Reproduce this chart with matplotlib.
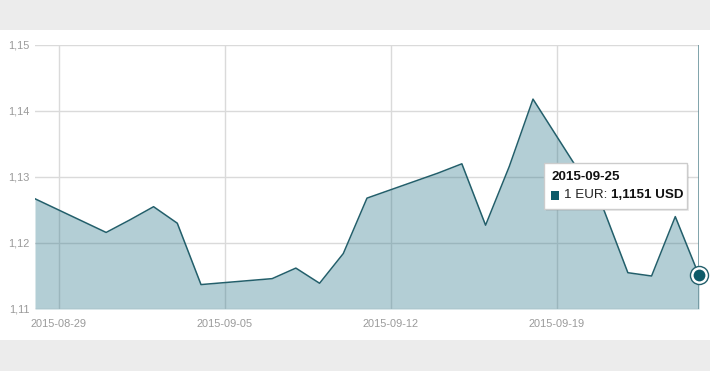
import numpy as np
import pandas as pd
import matplotlib
matplotlib.use('Agg')
import matplotlib.pyplot as plt
import matplotlib.dates as mdates
from matplotlib.patches import Rectangle
from matplotlib.offsetbox import TextArea, HPacker, VPacker, AnnotationBbox, DrawingArea

plt.rcParams['font.family'] = ['Liberation Sans', 'DejaVu Sans']

# Курс EUR/USD по рабочим дням
dates = ['2015-08-28', '2015-08-31', '2015-09-01', '2015-09-02', '2015-09-03',
         '2015-09-04', '2015-09-07', '2015-09-08', '2015-09-09', '2015-09-10',
         '2015-09-11', '2015-09-14', '2015-09-15', '2015-09-16', '2015-09-17',
         '2015-09-18', '2015-09-21', '2015-09-22', '2015-09-23', '2015-09-24',
         '2015-09-25']
rates = [1.1267, 1.1216, 1.1235, 1.1255, 1.1230,
         1.1137, 1.1146, 1.1162, 1.1139, 1.1184,
         1.1268, 1.1306, 1.1320, 1.1227, 1.1316,
         1.1418, 1.1249, 1.1155, 1.1150, 1.1240,
         1.1151]
tick_dates = ['2015-08-29', '2015-09-05', '2015-09-12', '2015-09-19']
y_ticks = [1.11, 1.12, 1.13, 1.14, 1.15]

x = pd.to_datetime(dates)
y = np.array(rates)

line_color = '#235f6b'
fill_color = '#267387'
grid_color = '#dadada'
label_color = '#9a9a9a'

W, H = 710, 371
fig = plt.figure(figsize=(W / 100, H / 100), dpi=100)
fig.patch.set_facecolor('white')
# серые полосы сверху и снизу
fig.patches.append(Rectangle((0, 341 / H), 1, 30 / H, transform=fig.transFigure,
                             facecolor='#ececec', edgecolor='none', zorder=0))
fig.patches.append(Rectangle((0, 0), 1, 31 / H, transform=fig.transFigure,
                             facecolor='#ececec', edgecolor='none', zorder=0))

ax = fig.add_axes([35 / W, 62 / H, 664 / W, 264 / H])
ax.set_facecolor('none')

# сетка под полупрозрачной заливкой
ax.grid(True, color=grid_color, lw=1)
ax.set_axisbelow(True)
ax.fill_between(x, y, y_ticks[0], color=fill_color, alpha=0.35, lw=0, zorder=1)
ax.plot(x, y, color=line_color, lw=1.1, zorder=3)

ax.set_xlim(x[0], x[-1])
ax.set_ylim(y_ticks[0], y_ticks[-1])
ax.set_yticks(y_ticks)
ax.set_yticklabels([f'{v:.2f}'.replace('.', ',') for v in y_ticks])
ax.set_xticks(pd.to_datetime(tick_dates))
ax.xaxis.set_major_formatter(mdates.DateFormatter('%Y-%m-%d'))

for s in ax.spines.values():
    s.set_visible(False)
ax.tick_params(length=0, labelsize=7.9, colors=label_color)
ax.tick_params(axis='y', pad=4)
ax.tick_params(axis='x', pad=7)

# вертикальная линия и маркер последней точки
ax.axvline(x[-1], color='#6a939c', lw=1.2, zorder=3)
ax.plot(x[-1:], y[-1:], 'o', ms=13, mfc='white', mec=line_color, mew=1, zorder=5, clip_on=False)
ax.plot(x[-1:], y[-1:], 'o', ms=8.5, mfc='#0d5a68', mec='none', zorder=6, clip_on=False)

# подсказка: тень, рамка, текст
bx0, bx1, by0, by1 = 544, 687, 163, 209
fig.patches.append(Rectangle(((bx0 + 2) / W, (H - by1 - 2) / H), (bx1 - bx0) / W, (by1 - by0) / H,
                             transform=fig.transFigure, facecolor='black', alpha=0.08,
                             edgecolor='none', zorder=9))
fig.patches.append(Rectangle((bx0 / W, (H - by1) / H), (bx1 - bx0) / W, (by1 - by0) / H,
                             transform=fig.transFigure, facecolor='white',
                             edgecolor='#cccccc', lw=1, zorder=10))

val = f'{y[-1]:.4f}'.replace('.', ',') + ' USD'
t_date = TextArea(x[-1].strftime('%Y-%m-%d'), textprops=dict(fontsize=9.6, fontweight='bold', color='#111111'))
sq = DrawingArea(6, 6)
sq.add_artist(Rectangle((0, 0), 6, 6, facecolor='#0d5a68', edgecolor='none'))
t_lbl = TextArea('1 EUR:', textprops=dict(fontsize=9.6, color='#222222'))
t_val = TextArea(val, textprops=dict(fontsize=9.6, fontweight='bold', color='#111111'))
row = HPacker(children=[sq, t_lbl, t_val], align='center', pad=0, sep=3)
box = VPacker(children=[t_date, row], align='left', pad=0, sep=5)
ab = AnnotationBbox(box, ((bx0 + 7) / W, (H - (by0 + by1) / 2) / H), xycoords='figure fraction',
                    box_alignment=(0, 0.5), frameon=False)
ab.set_zorder(11)
fig.add_artist(ab)

fig.savefig('out.png', dpi=100)
